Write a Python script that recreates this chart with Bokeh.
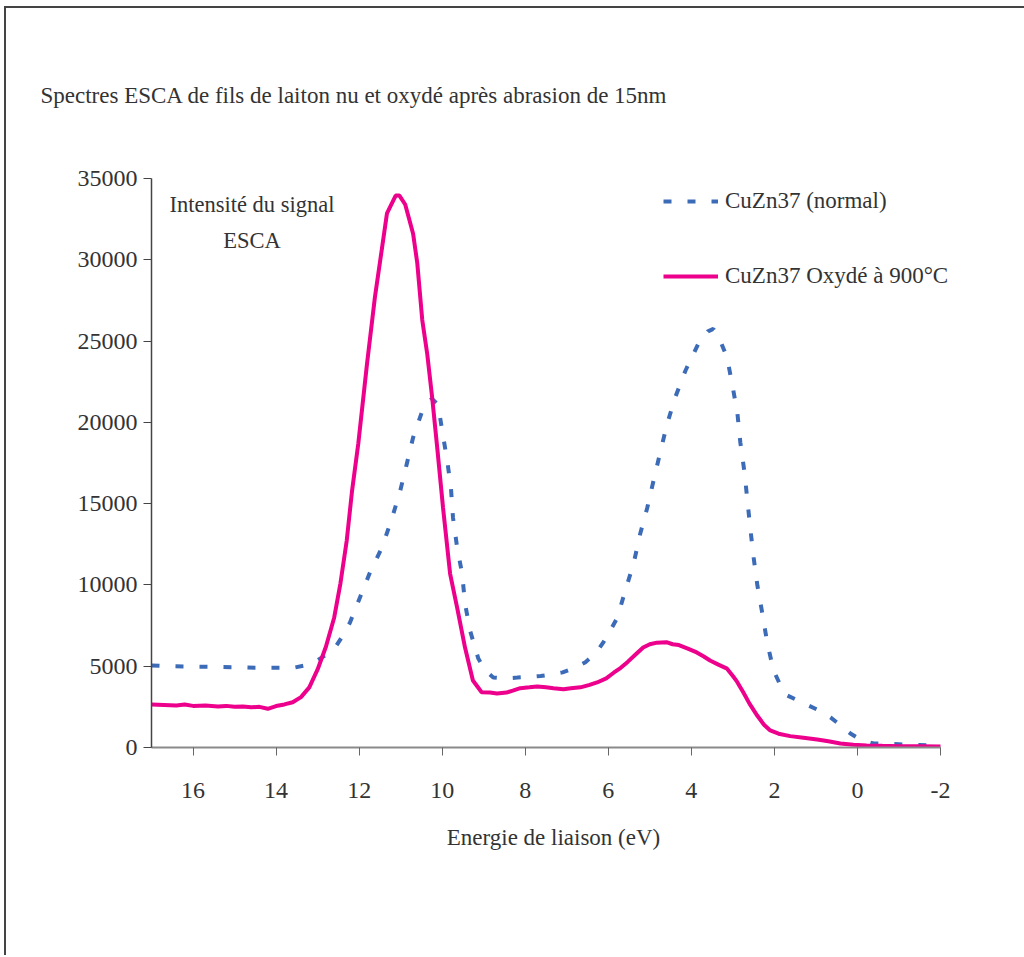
from bokeh.plotting import figure
from bokeh.models import Range1d, FixedTicker, Label, Legend, CustomJSTickFormatter, Title
from bokeh.embed import file_html
from bokeh.resources import INLINE

# --- data ---
energy_oxide = [17.0, 16.7, 16.4, 16.2, 16.0, 15.7, 15.4, 15.2, 15.0, 14.8, 14.6, 14.4, 14.2, 14.0,
                13.8, 13.6, 13.4, 13.2, 13.0, 12.8, 12.6, 12.45, 12.3, 12.17, 12.02, 11.81, 11.62,
                11.49, 11.33, 11.12, 11.03, 10.89, 10.7, 10.6, 10.48, 10.36, 10.24, 10.12, 9.98,
                9.81, 9.64, 9.45, 9.26, 9.05, 8.85, 8.68, 8.45, 8.3, 8.12, 7.9, 7.71, 7.5, 7.32,
                7.08, 6.9, 6.67, 6.45, 6.27, 6.05, 5.87, 5.7, 5.54, 5.35, 5.16, 5.0, 4.83, 4.6,
                4.45, 4.3, 4.1, 3.87, 3.7, 3.55, 3.35, 3.14, 3.0, 2.9, 2.75, 2.6, 2.41, 2.25, 2.1,
                1.9, 1.62, 1.3, 0.97, 0.7, 0.41, 0.1, -0.22, -0.6, -1.0, -1.5, -2.0]
intensity_oxide = [2650, 2620, 2580, 2640, 2560, 2580, 2520, 2560, 2500, 2520, 2470, 2500, 2380, 2550,
                   2650, 2780, 3100, 3700, 4800, 6200, 8000, 10100, 12700, 15800, 18700, 23600, 27700,
                   30000, 32850, 33950, 33950, 33400, 31600, 29800, 26300, 24200, 21500, 18450, 14760,
                   10700, 8600, 6150, 4120, 3400, 3380, 3320, 3380, 3500, 3650, 3700, 3750, 3700, 3640,
                   3580, 3650, 3700, 3850, 4000, 4250, 4600, 4900, 5250, 5700, 6150, 6350, 6450, 6480,
                   6350, 6300, 6100, 5850, 5600, 5350, 5100, 4850, 4400, 4050, 3400, 2700, 1950, 1400, 1050,
                   850, 700, 600, 490, 380, 250, 170, 120, 100, 80, 70, 60]

energy_normal = [17.0, 16.5, 16.0, 15.5, 15.0, 14.5, 14.0, 13.59, 13.3, 13.01, 12.8, 12.58, 12.4, 12.22,
                 11.98, 11.74, 11.45, 11.21, 11.01, 10.85, 10.7, 10.46, 10.25, 10.1, 10.0, 9.88, 9.79,
                 9.74, 9.64, 9.52, 9.45, 9.33, 9.13, 8.95, 8.77, 8.5, 8.19, 7.9, 7.63, 7.35, 7.1, 6.8,
                 6.55, 6.3, 6.12, 5.95, 5.78, 5.59, 5.39, 5.23, 5.06, 4.91, 4.75, 4.58, 4.39, 4.14, 3.83,
                 3.6, 3.47, 3.3, 3.14, 3.01, 2.89, 2.82, 2.72, 2.65, 2.58, 2.5, 2.41, 2.29, 2.17, 2.02,
                 1.85, 1.69, 1.4, 1.18, 0.9, 0.65, 0.4, 0.17, -0.1, -0.39, -1.0, -1.5, -2.0]
intensity_normal = [5050, 5000, 4980, 4960, 4940, 4900, 4900, 4900, 5050, 5350, 5700, 6150, 6850, 7690,
                    9230, 10760, 12300, 14090, 15800, 17470, 19070, 20850, 21450, 21100, 19500, 17650, 16000,
                    14150, 12300, 10700, 8860, 7200, 5470, 4700, 4310, 4250, 4300, 4350, 4400, 4500, 4620, 4900,
                    5250, 5800, 6460, 7200, 8000, 9660, 11320, 13160, 14760, 16420, 18150, 19930, 21530, 23190, 24850,
                    25600, 25750, 25000, 23990, 22270, 20540, 18760, 16920, 15190, 13470, 11690, 9970, 8240, 6400, 4740,
                    3800, 3200, 2850, 2580, 2250, 1850, 1350, 860, 450, 250, 200, 150, 100]

x_ticks = [16, 14, 12, 10, 8, 6, 4, 2, 0, -2]
y_ticks = [0, 5000, 10000, 15000, 20000, 25000, 30000, 35000]

title_text = "Spectres ESCA de fils de laiton nu et oxydé après abrasion de 15nm"
ylabel_lines = ["Intensité du signal", "ESCA"]
xlabel_text = "Energie de liaison (eV)"
series_names = ["CuZn37 (normal)", "CuZn37 Oxydé à 900°C"]

FONT = "Liberation Serif"
TXT = "#333333"
BLUE = "#3c6bb7"
PINK = "#ec008c"

PX_PER_UNIT = 789 / 19.0
FRAME_W = 804
x_end = 17 - FRAME_W / PX_PER_UNIT

p = figure(x_range=Range1d(17, x_end), y_range=Range1d(0, 35000),
           frame_width=FRAME_W, frame_height=569,
           min_border_left=145, min_border_right=69, min_border_top=170, min_border_bottom=208,
           output_backend="svg", toolbar_location=None)
p.styles = {"border-left": "2px solid #444444", "border-top": "2px solid #444444",
            "margin-left": "4px", "margin-top": "6px"}
p.outline_line_color = None
p.grid.visible = False
p.background_fill_color = "white"
p.border_fill_color = "white"

r1 = p.line(energy_normal, intensity_normal, line_color=BLUE, line_width=4, line_dash="8 16")
r2 = p.line(energy_oxide, intensity_oxide, line_color=PINK, line_width=4)

# axes
p.xaxis.ticker = FixedTicker(ticks=x_ticks)
p.yaxis.ticker = FixedTicker(ticks=y_ticks)
p.xaxis.formatter = CustomJSTickFormatter(code="return tick.toString();")
p.xaxis.bounds = (-2, 17)
for ax in (p.xaxis, p.yaxis):
    ax.major_label_text_font = FONT
    ax.major_label_text_font_size = "24px"
    ax.major_label_text_color = TXT
    ax.minor_tick_line_color = None
    ax.major_tick_in = 0
    ax.major_tick_out = 8
p.yaxis.axis_line_color = "#444444"
p.yaxis.major_tick_line_color = "#444444"
p.yaxis.axis_line_width = 1.5
p.xaxis.axis_line_color = "#8a8a8a"
p.xaxis.major_tick_line_color = "#666666"
p.xaxis.axis_line_width = 2
p.yaxis.major_label_standoff = 6
p.xaxis.major_label_standoff = 27
p.xaxis.axis_label = xlabel_text
p.xaxis.axis_label_text_font = FONT
p.xaxis.axis_label_text_font_size = "23px"
p.xaxis.axis_label_text_font_style = "normal"
p.xaxis.axis_label_text_color = TXT
p.xaxis.axis_label_standoff = 24

# title above the plot
p.add_layout(Title(text=title_text, align="left", offset=-111, standoff=142,
                   text_font=FONT, text_font_size="23px", text_font_style="normal",
                   text_color=TXT), "above")

# inner annotation
p.add_layout(Label(x=14.58, y=33400, text=ylabel_lines[0], text_font=FONT, text_font_size="22.5px",
                   text_color=TXT, text_align="center", text_baseline="middle"))
p.add_layout(Label(x=14.58, y=31190, text=ylabel_lines[1], text_font=FONT, text_font_size="22.5px",
                   text_color=TXT, text_align="center", text_baseline="middle"))

legend = Legend(items=[(series_names[0], [r1]), (series_names[1], [r2])],
                location=(512, 456), padding=0, margin=0, spacing=45,
                glyph_width=55, glyph_height=30, label_height=30, label_standoff=7,
                label_text_font=FONT, label_text_font_size="23px", label_text_color=TXT,
                border_line_alpha=0, background_fill_alpha=0)
p.add_layout(legend)

open("out.html", "w").write(file_html(p, INLINE))
